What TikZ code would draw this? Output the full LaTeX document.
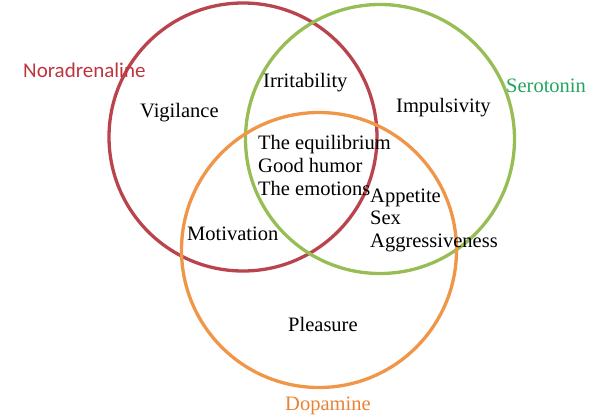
\documentclass[tikz,border=0pt]{standalone}
\usepackage{fontspec}
\setmainfont{Liberation Serif}
\newfontfamily\serifword{Liberation Serif}
\newfontfamily\labelsans{Carlito}
\definecolor{nred}{RGB}{185,68,78}
\definecolor{ngreen}{RGB}{150,190,85}
\definecolor{norange}{RGB}{240,150,72}
\definecolor{tred}{RGB}{192,52,62}
\definecolor{tgreen}{RGB}{34,165,95}
\definecolor{torange}{RGB}{232,130,52}
\tikzset{
  ring/.style={line width=3.3pt},
  word/.style={anchor=base west, inner sep=0pt, font=\serifword\fontsize{20.5}{23}\selectfont},
  sansword/.style={anchor=base west, inner sep=0pt, font=\labelsans\fontsize{21}{24}\selectfont}
}
\begin{document}
\begin{tikzpicture}[x=1pt,y=-1pt]
\useasboundingbox (0,0) rectangle (608,415);
% circles
\draw[ring, nred] (243,137) circle[radius=134];
\draw[ring, ngreen] (380,139) circle[radius=134.5];
\draw[ring, norange] (319,250) circle[radius=137.5];
% labels
\node[sansword, text=tred] (nor) at (23,77) {Noradrenaline};
\node[word, text=tgreen] (ser) at (506,92) {Serotonin};
\node[word, text=torange] (dop) at (285,410) {Dopamine};
\node[word] (vig) at (140,117) {Vigilance};
\node[word] (irr) at (263,87) {Irritability};
\node[word] (imp) at (396,112) {Impulsivity};
\node[word] (eq1) at (258,149.5) {The equilibrium};
\node[word] (eq2) at (258,172.5) {Good humor};
\node[word] (eq3) at (258,195) {The emotions};
\node[word] (ap1) at (370,202) {Appetite};
\node[word] (ap2) at (370,224.5) {Sex};
\node[word] (ap3) at (370,247) {Aggressiveness};
\node[word] (mot) at (187,240) {Motivation};
\node[word] (ple) at (288,331) {Pleasure};
\end{tikzpicture}
\end{document}
